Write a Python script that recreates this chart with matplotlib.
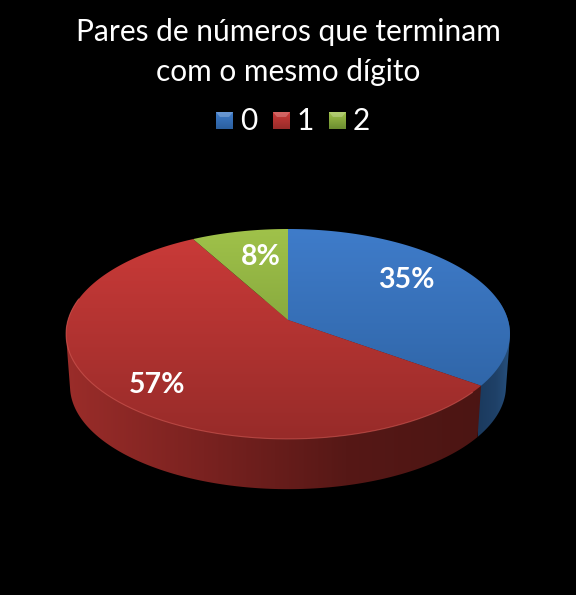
import numpy as np
import matplotlib
matplotlib.use('Agg')
import matplotlib.pyplot as plt
from matplotlib.colors import LinearSegmentedColormap
from matplotlib.patches import Polygon, Rectangle

# data
categories = ['0', '1', '2']
values = [35, 57, 8]
title = 'Pares de números que terminam\ncom o mesmo dígito'

# look
top_colors = [('#3f7cca', '#2b5f9e'), ('#cc3b39', '#972b29'), ('#a0c24a', '#6b8c30')]
side_colors = [['#1b3a5e', '#1f4168', '#2a5686'],
               ['#9c2d2a', '#7a2220', '#561816', '#4b1513'],
               ['#4e6622', '#4e6622']]
side_extent = [[478, 515, 495, 300], [60, 490, 495, 300], [60, 516, 495, 300]]
label_pos = [(406, 280), (157, 385), (261, 257)]

cx, cy = 288, 320
rx, up = 220, 103.1
k = 0.133
depth = 52.4


def project(theta, scale=1.0, drop=0.0):
    # perspective view of the round top, theta clockwise from 12 o'clock
    u, v = np.sin(theta), np.cos(theta)
    w = 1 + k * v
    return cx + scale * rx * u / w, cy - scale * up * v / w + drop


def hull(points):
    # monotone chain, the wall has to reach the outline of both rims
    pts = sorted(map(tuple, points))

    def half(seq):
        out = []
        for p in seq:
            while len(out) > 1:
                a, b = out[-2], out[-1]
                if (b[0] - a[0]) * (p[1] - a[1]) - (b[1] - a[1]) * (p[0] - a[0]) > 0:
                    break
                out.pop()
            out.append(p)
        return out[:-1]

    return np.array(half(pts) + half(pts[::-1]))


def gradient(ax, colors, extent, clip, vertical=True):
    cmap = LinearSegmentedColormap.from_list('g', colors)
    ramp = np.linspace(0, 1, 256)
    ramp = ramp[:, None] if vertical else ramp[None, :]
    im = ax.imshow(ramp, cmap=cmap, extent=extent, aspect='auto', zorder=clip.get_zorder(),
                   interpolation='bilinear')
    im.set_clip_path(clip)


fig = plt.figure(figsize=(5.76, 5.95), dpi=100, facecolor='black')
ax = fig.add_axes([0, 0, 1, 1])
ax.set_facecolor('black')
ax.axis('off')

edges = np.radians(np.concatenate([[0], np.cumsum(values)]) * 3.6)

# side wall first, blue then red so the red sits in front
for i in [0, 1]:
    t = np.linspace(edges[i], edges[i + 1], 300)
    x1, y1 = project(t)
    x2, y2 = project(t, 0.982, depth)
    pts = hull(np.column_stack([np.r_[x1, x2], np.r_[y1, y2]]))
    poly = Polygon(pts, closed=True, facecolor='none', edgecolor='none', zorder=2 + 0.1 * i)
    ax.add_patch(poly)
    gradient(ax, side_colors[i], side_extent[i], poly, vertical=False)

# top of the pie
for i in range(len(values)):
    t = np.linspace(edges[i], edges[i + 1], 200)
    x, y = project(t)
    pts = np.column_stack([np.r_[cx, x], np.r_[cy, y]])
    poly = Polygon(pts, closed=True, facecolor='none', edgecolor='none', zorder=3)
    ax.add_patch(poly)
    gradient(ax, top_colors[i], [60, 516, 440, 228], poly)

# thin highlight along the front rim
t = np.radians(np.linspace(130, 282, 200))
x, y = project(t)
ax.plot(x, y, color='#d9605a', lw=0.8, alpha=0.55, zorder=4)

# percent labels
total = sum(values)
for v, (px, py) in zip(values, label_pos):
    ax.text(px, py, f'{round(100 * v / total)}%', color='white', fontsize=20.5, fontweight='bold',
            family='Lato', ha='center', va='center', zorder=5)

ax.text(288, 52, title, color='white', fontsize=21.5, family='Lato', ha='center', va='center',
        linespacing=1.55, zorder=5)

# legend
leg_x = [216, 273, 329]
for i, name in enumerate(categories):
    r = Rectangle((leg_x[i], 112), 17, 17, facecolor='none', edgecolor='none', zorder=3)
    ax.add_patch(r)
    gradient(ax, top_colors[i], [leg_x[i], leg_x[i] + 17, 129, 112], r)
    # bevel on the swatch
    ax.add_patch(Polygon([(leg_x[i], 112), (leg_x[i] + 17, 112), (leg_x[i] + 13, 117), (leg_x[i] + 4, 117)],
                         closed=True, facecolor='white', edgecolor='none', alpha=0.22, zorder=4))
    ax.text(leg_x[i] + 24, 120.5, name, color='white', fontsize=21.5, family='Lato', ha='left', va='center')

ax.set_xlim(0, 576)
ax.set_ylim(595, 0)
fig.savefig('out.png', dpi=100, facecolor='black')
